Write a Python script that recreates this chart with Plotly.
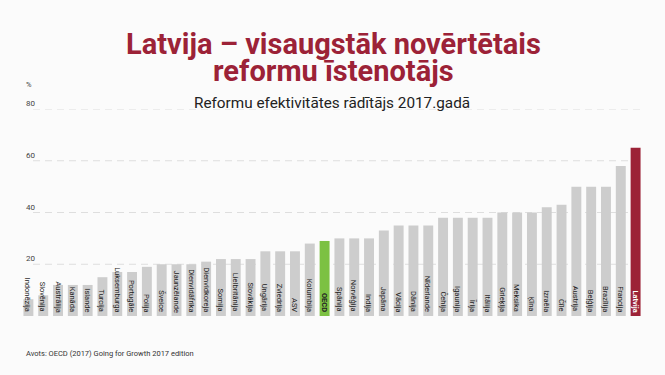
import plotly.graph_objects as go

countries = ["Indonēzija", "Slovēnija", "Austrālija", "Kanāda", "Islande", "Turcija",
             "Luksemburga", "Portugāle", "Polija", "Šveice", "Jaunzēlande", "Dienvidāfrika",
             "Dienvidkoreja", "Somija", "Lielbritānija", "Slovākija", "Ungārija", "Zviedrija",
             "ASV", "Kolumbija", "OECD", "Spānija", "Norvēģija", "Indija", "Japāna", "Vācija",
             "Dānija", "Nīderlande", "Čehija", "Igaunija", "Īrija", "Itālija", "Grieķija",
             "Meksika", "Ķīna", "Izraēla", "Čīle", "Austrija", "Beļģija", "Brazīlija",
             "Francija", "Latvija"]
values = [6.5, 8, 12, 12, 12, 15, 17, 17, 19, 20, 20, 20,
          21, 22, 22, 22, 25, 25, 25, 28, 29, 30, 30, 30, 33, 35,
          35, 35, 38, 38, 38, 38, 40, 40, 40, 42, 43, 50, 50, 50, 58, 65]
y_ticks = [20, 40, 60, 80]

GREY = "#cdcdcd"
RED = "#9c2237"
GREEN = "#7cc142"

W, H = 665, 375
ML, MR, MT, MB = 21, 22, 109, 59
PW, PH = W - ML - MR, H - MT - MB


def px_x(x):
    return (x - ML) / PW


def px_y(y):
    return (H - MB - y) / PH


colors = [RED if c == "Latvija" else GREEN if c == "OECD" else GREY for c in countries]

fig = go.Figure()
fig.add_trace(go.Bar(x=countries, y=values, marker=dict(color=colors, line=dict(width=0)),
                     hoverinfo="skip"))

annotations = []
for c in countries:
    annotations.append(dict(
        x=c, y=0, xref="x", yref="y", text=c, showarrow=False,
        textangle=90, yanchor="bottom", xanchor="center", yshift=2,
        font=dict(family="Roboto", size=7.5,
                  color="#ffffff" if c == "Latvija" else "#222222",
                  weight="bold" if c in ("OECD", "Latvija") else "normal"),
    ))

for t in y_ticks:
    annotations.append(dict(
        x=px_x(24), y=t, xref="paper", yref="y", text=str(t), showarrow=False,
        xanchor="left", yanchor="bottom", yshift=-1,
        font=dict(family="Roboto", size=8, color="#444444"),
    ))
annotations.append(dict(
    x=px_x(24), y=px_y(85), xref="paper", yref="paper", text="%", showarrow=False,
    xanchor="left", yanchor="middle",
    font=dict(family="Roboto", size=7.5, color="#444444"),
))
annotations.append(dict(
    x=px_x(333), y=px_y(44), xref="paper", yref="paper", showarrow=False,
    xanchor="center", yanchor="middle",
    text="Latvija – visaugstāk novērtētais",
    font=dict(family="Roboto", size=29, color=RED, weight="bold"),
))
annotations.append(dict(
    x=px_x(333), y=px_y(71), xref="paper", yref="paper", showarrow=False,
    xanchor="center", yanchor="middle",
    text="reformu īstenotājs",
    font=dict(family="Roboto", size=29, color=RED, weight="bold"),
))
annotations.append(dict(
    x=px_x(332), y=px_y(103), xref="paper", yref="paper", showarrow=False,
    xanchor="center", yanchor="middle",
    text="Reformu efektivitātes rādītājs 2017.gadā",
    font=dict(family="Roboto", size=15.3, color="#222222"),
))
annotations.append(dict(
    x=px_x(24), y=px_y(353), xref="paper", yref="paper", showarrow=False,
    xanchor="left", yanchor="middle",
    text="Avots: OECD (2017) Going for Growth 2017 edition",
    font=dict(family="Roboto", size=7.5, color="#333333"),
))

shapes = []
for t in y_ticks:
    shapes.append(dict(type="line", xref="paper", yref="y", x0=px_x(33), x1=px_x(640),
                       y0=t, y1=t,
                       line=dict(color="#dedede", width=1, dash="7px,5px"), layer="below"))

fig.update_layout(
    width=W, height=H,
    paper_bgcolor="#fbfbfb", plot_bgcolor="#fbfbfb",
    margin=dict(l=ML, r=MR, t=MT, b=MB),
    showlegend=False,
    bargap=0.33,
    xaxis=dict(showticklabels=False, showgrid=False, zeroline=False, showline=False,
               ticks=""),
    yaxis=dict(range=[0, 80], showticklabels=False, showgrid=False, zeroline=False,
               showline=False, ticks=""),
    shapes=shapes,
    annotations=annotations,
)

fig.write_html("out.html", config={"displayModeBar": False},
               post_script="document.body.style.margin='0';document.body.style.background='#fbfbfb';")
